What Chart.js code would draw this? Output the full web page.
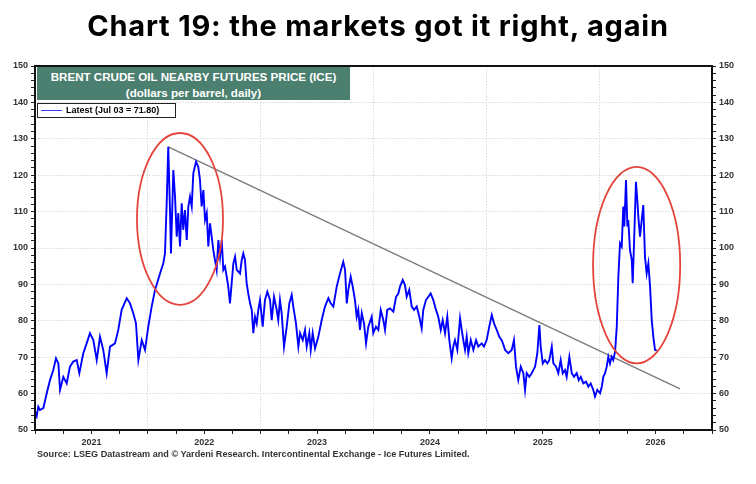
<!DOCTYPE html>
<html><head><meta charset="utf-8">
<script src="https://cdn.jsdelivr.net/npm/chart.js@4.4.1/dist/chart.umd.min.js"></script>
<style>
html,body{margin:0;padding:0;background:#fff;}
#wrap{position:relative;width:756px;height:484px;overflow:hidden;}
#c{position:absolute;left:0;top:0;}
#title{position:absolute;left:0;top:8px;width:756px;text-align:center;font:700 29px Inter, sans-serif;letter-spacing:0.8px;color:#000;white-space:nowrap;}
#hdr{position:absolute;left:37px;top:67px;width:313px;height:33px;background:#4b7f70;color:#fff;font:bold 11.6px "Liberation Sans", Arial, sans-serif;text-align:center;line-height:16px;padding-top:2px;box-sizing:border-box;white-space:nowrap;}
#leg{position:absolute;left:37px;top:103px;width:139px;height:15px;border:1px solid #222;box-sizing:border-box;background:#fff;font:bold 9px "Liberation Sans", Arial, sans-serif;color:#000;white-space:nowrap;}
#leg .ln{position:absolute;left:3px;top:6px;width:21px;height:0;border-top:1.5px solid #3b3bff;}
#leg .tx{position:absolute;left:28px;top:1px;line-height:11px;}
#src{position:absolute;left:37px;top:449px;font:bold 9.1px "Liberation Sans", Arial, sans-serif;color:#333;white-space:nowrap;}
</style></head>
<body><div id="wrap">
<canvas id="c" width="756" height="484"></canvas>
<div id="title">Chart 19: the markets got it right, again</div>
<div id="hdr">BRENT CRUDE OIL NEARBY FUTURES PRICE (ICE)<br>(dollars per barrel, daily)</div>
<div id="leg"><span class="ln"></span><span class="tx">Latest (Jul 03 = 71.80)</span></div>
<div id="src">Source: LSEG Datastream and © Yardeni Research. Intercontinental Exchange - Ice Futures Limited.</div>
</div>
<script>
// ---- data (decimal year, $/barrel) ----
const years = [
2021.000,2021.015,2021.029,2021.044,2021.074,2021.104,2021.133,2021.162,2021.186,2021.207,
2021.222,2021.251,2021.281,2021.310,2021.339,2021.370,2021.393,2021.428,2021.458,2021.487,
2021.517,2021.547,2021.576,2021.605,2021.635,2021.665,2021.709,2021.738,2021.768,2021.813,
2021.842,2021.871,2021.895,2021.916,2021.946,2021.975,2022.004,2022.034,2022.064,2022.108,
2022.137,2022.152,2022.167,2022.181,2022.197,2022.205,2022.226,2022.241,2022.256,2022.270,
2022.285,2022.300,2022.314,2022.329,2022.345,2022.359,2022.374,2022.389,2022.403,2022.427,
2022.447,2022.462,2022.477,2022.492,2022.507,2022.522,2022.536,2022.551,2022.566,2022.580,
2022.595,2022.610,2022.625,2022.640,2022.655,2022.669,2022.684,2022.699,2022.713,2022.728,
2022.743,2022.758,2022.773,2022.788,2022.817,2022.832,2022.846,2022.861,2022.876,2022.890,
2022.906,2022.921,2022.935,2022.950,2022.965,2022.979,2022.994,2023.018,2023.038,2023.059,
2023.083,2023.098,2023.118,2023.142,2023.156,2023.171,2023.186,2023.207,2023.231,2023.254,
2023.275,2023.289,2023.313,2023.334,2023.349,2023.373,2023.393,2023.408,2023.431,2023.444,
2023.461,2023.482,2023.511,2023.541,2023.570,2023.600,2023.621,2023.644,2023.674,2023.703,
2023.732,2023.748,2023.763,2023.777,2023.798,2023.816,2023.836,2023.851,2023.865,2023.880,
2023.896,2023.916,2023.934,2023.954,2023.984,2023.998,2024.022,2024.043,2024.064,2024.087,
2024.102,2024.122,2024.146,2024.176,2024.200,2024.220,2024.235,2024.259,2024.279,2024.294,
2024.317,2024.339,2024.359,2024.383,2024.406,2024.427,2024.441,2024.465,2024.486,2024.507,
2024.530,2024.554,2024.574,2024.596,2024.613,2024.634,2024.654,2024.672,2024.693,2024.707,
2024.722,2024.743,2024.767,2024.782,2024.796,2024.811,2024.826,2024.840,2024.862,2024.885,
2024.909,2024.929,2024.959,2024.979,2025.003,2025.026,2025.048,2025.068,2025.092,2025.115,
2025.136,2025.151,2025.166,2025.195,2025.225,2025.245,2025.263,2025.283,2025.305,2025.328,
2025.343,2025.358,2025.381,2025.402,2025.432,2025.452,2025.470,2025.482,2025.500,2025.520,
2025.541,2025.558,2025.580,2025.594,2025.618,2025.638,2025.659,2025.677,2025.697,2025.712,
2025.736,2025.757,2025.777,2025.801,2025.819,2025.837,2025.860,2025.884,2025.904,2025.925,
2025.948,2025.963,2025.984,2026.008,2026.023,2026.037,2026.052,2026.067,2026.081,2026.096,
2026.111,2026.125,2026.141,2026.156,2026.170,2026.185,2026.200,2026.214,2026.223,2026.238,
2026.250,2026.258,2026.273,2026.289,2026.297,2026.309,2026.326,2026.338,2026.347,2026.362,
2026.377,2026.391,2026.406,2026.421,2026.436,2026.451,2026.466,2026.480,2026.495,2026.510
];
const prices = [
55.0,53.8,56.4,55.5,56.0,60.1,63.7,66.5,69.7,68.3,
61.0,64.6,62.8,67.4,68.8,69.2,65.6,71.1,73.8,76.6,
74.7,69.2,75.6,72.0,65.6,72.9,73.8,77.5,83.0,86.2,
84.8,82.1,79.3,69.2,74.7,72.0,78.4,83.9,88.5,93.0,
95.8,98.5,112.3,127.8,109.6,98.5,121.4,114.1,103.1,109.6,
100.4,112.3,105.0,110.4,102.2,111.4,114.1,111.4,120.5,123.7,
122.3,118.7,111.4,115.9,107.7,109.6,100.4,106.8,103.1,99.5,
96.7,94.0,102.2,97.6,102.2,94.0,94.9,92.1,89.4,84.8,
90.3,95.8,97.6,94.0,93.0,96.7,98.5,96.7,90.3,87.5,
84.8,83.0,76.6,81.1,79.3,83.0,85.7,78.4,85.7,88.0,
85.7,80.2,86.6,83.0,80.2,85.7,82.1,72.9,78.4,84.8,
87.1,83.9,79.3,72.9,76.6,74.7,77.5,72.9,76.6,72.0,
76.6,72.4,75.6,80.2,83.9,86.2,84.8,83.9,89.4,93.0,
96.2,94.0,84.8,88.5,92.1,89.4,85.7,81.1,83.0,77.5,
82.1,79.3,73.8,78.4,81.1,76.6,78.4,77.5,83.0,80.2,
77.5,83.0,83.4,82.5,86.6,87.5,89.4,91.2,89.8,86.6,
88.5,83.9,83.0,83.9,81.1,77.9,83.0,85.7,86.6,87.5,
85.7,83.0,81.1,77.5,80.2,76.6,81.1,74.7,69.7,72.9,
74.7,72.0,80.7,77.5,74.7,72.0,75.6,71.1,74.7,72.0,
74.7,72.9,73.8,72.9,74.7,78.4,81.6,79.3,77.5,75.6,
74.7,73.5,72.0,71.1,72.0,74.7,67.4,63.7,67.4,65.6,
61.0,65.6,64.6,65.6,67.4,71.1,78.8,72.9,68.3,69.2,
68.3,69.2,72.9,68.3,67.4,65.6,69.2,65.6,66.5,64.6,
70.1,65.6,64.6,65.6,63.7,64.6,62.8,63.3,61.9,62.8,
61.0,59.2,61.0,60.1,61.9,64.6,65.6,67.4,70.1,68.3,
70.1,69.2,71.5,78.4,92.1,101.3,100.4,111.4,105.9,118.7,
105.9,107.7,99.5,96.7,90.3,101.3,118.2,113.2,108.6,103.1,
107.7,111.8,97.6,93.0,95.8,89.4,80.2,75.6,72.0,71.8
];
// downward trend line (start at 2022 peak)
const trendYears = [2022.181, 2026.717];
const trendValues = [127.8, 61.3];
// x-axis tick labels (centred on each year)
const yearLabels = ['2021','2022','2023','2024','2025','2026'];
const firstYear = 2021, lastYear = 2027;
// circled episodes: centre (year, price) and half-widths (years, price)
const circleCentersX = [2022.285, 2026.332];
const circleCentersY = [108.0, 95.3];
const circleRadX = [0.381, 0.386];
const circleRadY = [23.6, 27.0];

const GRID = '#dadada';
const tickFont = {family:'"Liberation Sans", Arial, sans-serif', size:9, weight:'bold'};

const overlay = {
  id:'overlay',
  afterDatasetsDraw(chart){
    const {ctx, chartArea:a, scales:{x, y}} = chart;
    ctx.save();
    ctx.strokeStyle = '#e2453c';
    ctx.lineWidth = 1.8;
    for (let i=0;i<circleCentersX.length;i++){
      const cx = x.getPixelForValue(circleCentersX[i]);
      const cy = y.getPixelForValue(circleCentersY[i]);
      const rx = x.getPixelForValue(circleCentersX[i]+circleRadX[i]) - cx;
      const ry = cy - y.getPixelForValue(circleCentersY[i]+circleRadY[i]);
      ctx.beginPath();
      ctx.ellipse(cx, cy, rx, ry, 0, 0, Math.PI*2);
      ctx.stroke();
    }
    ctx.strokeStyle = '#111';
    ctx.lineWidth = 2;
    ctx.strokeRect(a.left, a.top, a.right-a.left, a.bottom-a.top);
    ctx.restore();
  }
};

const xTicks = [];
for (let v = firstYear*4; v <= lastYear*4; v++) xTicks.push(v/4);
const yTicks = [];
for (let v = 50; v <= 150; v += 2) yTicks.push(v);

function yAxis(pos, w){
  return {
    type:'linear', position:pos, min:50, max:150,
    afterBuildTicks(s){ s.ticks = yTicks.map(v=>({value:v})); },
    afterFit(s){ s.width = w; },
    border:{display:false, dash:[1.5,1.5]},
    grid:{
      drawOnChartArea: pos==='left',
      color:(c)=> (c.tick && c.tick.value%10===0 && c.tick.value>50 && c.tick.value<150) ? GRID : 'rgba(0,0,0,0)',
      tickColor:'#222', tickLength:4, tickWidth:1, lineWidth:1
    },
    ticks:{autoSkip:false, padding:3, color:'#333', font:tickFont,
      callback:(v)=> v%10===0 ? String(v) : ''}
  };
}

new Chart(document.getElementById('c'), {
  type:'line',
  data:{datasets:[
    {data: years.map((t,i)=>({x:t, y:prices[i]})), borderColor:'#0000ff', borderWidth:1.9,
     pointRadius:0, tension:0, order:1},
    {data: trendYears.map((t,i)=>({x:t, y:trendValues[i]})), borderColor:'#7c7c7c', borderWidth:1.4,
     pointRadius:0, order:2}
  ]},
  options:{
    responsive:false, animation:false, devicePixelRatio:1,
    layout:{padding:{top:66, left:0, right:0, bottom:0}},
    plugins:{legend:{display:false}, tooltip:{enabled:false}},
    scales:{
      x:{
        type:'linear', min:firstYear, max:lastYear,
        afterBuildTicks(s){ s.ticks = xTicks.map(v=>({value:v})); },
        afterFit(s){ s.height = 54; },
        border:{display:false, dash:[1.5,1.5]},
        grid:{
          color:(c)=> (c.tick && Number.isInteger(c.tick.value) && c.tick.value>firstYear && c.tick.value<lastYear) ? GRID : 'rgba(0,0,0,0)',
          tickColor:'#222', tickLength:4, lineWidth:1
        },
        ticks:{autoSkip:false, maxRotation:0, padding:3, color:'#333', font:tickFont,
          callback:(v)=> (Math.abs(v - Math.floor(v) - 0.5) < 1e-6) ? (yearLabels[Math.floor(v)-firstYear] || '') : ''}
      },
      y: yAxis('left', 35),
      y2: yAxis('right', 44)
    }
  },
  plugins:[overlay]
});
</script>
</body></html>
